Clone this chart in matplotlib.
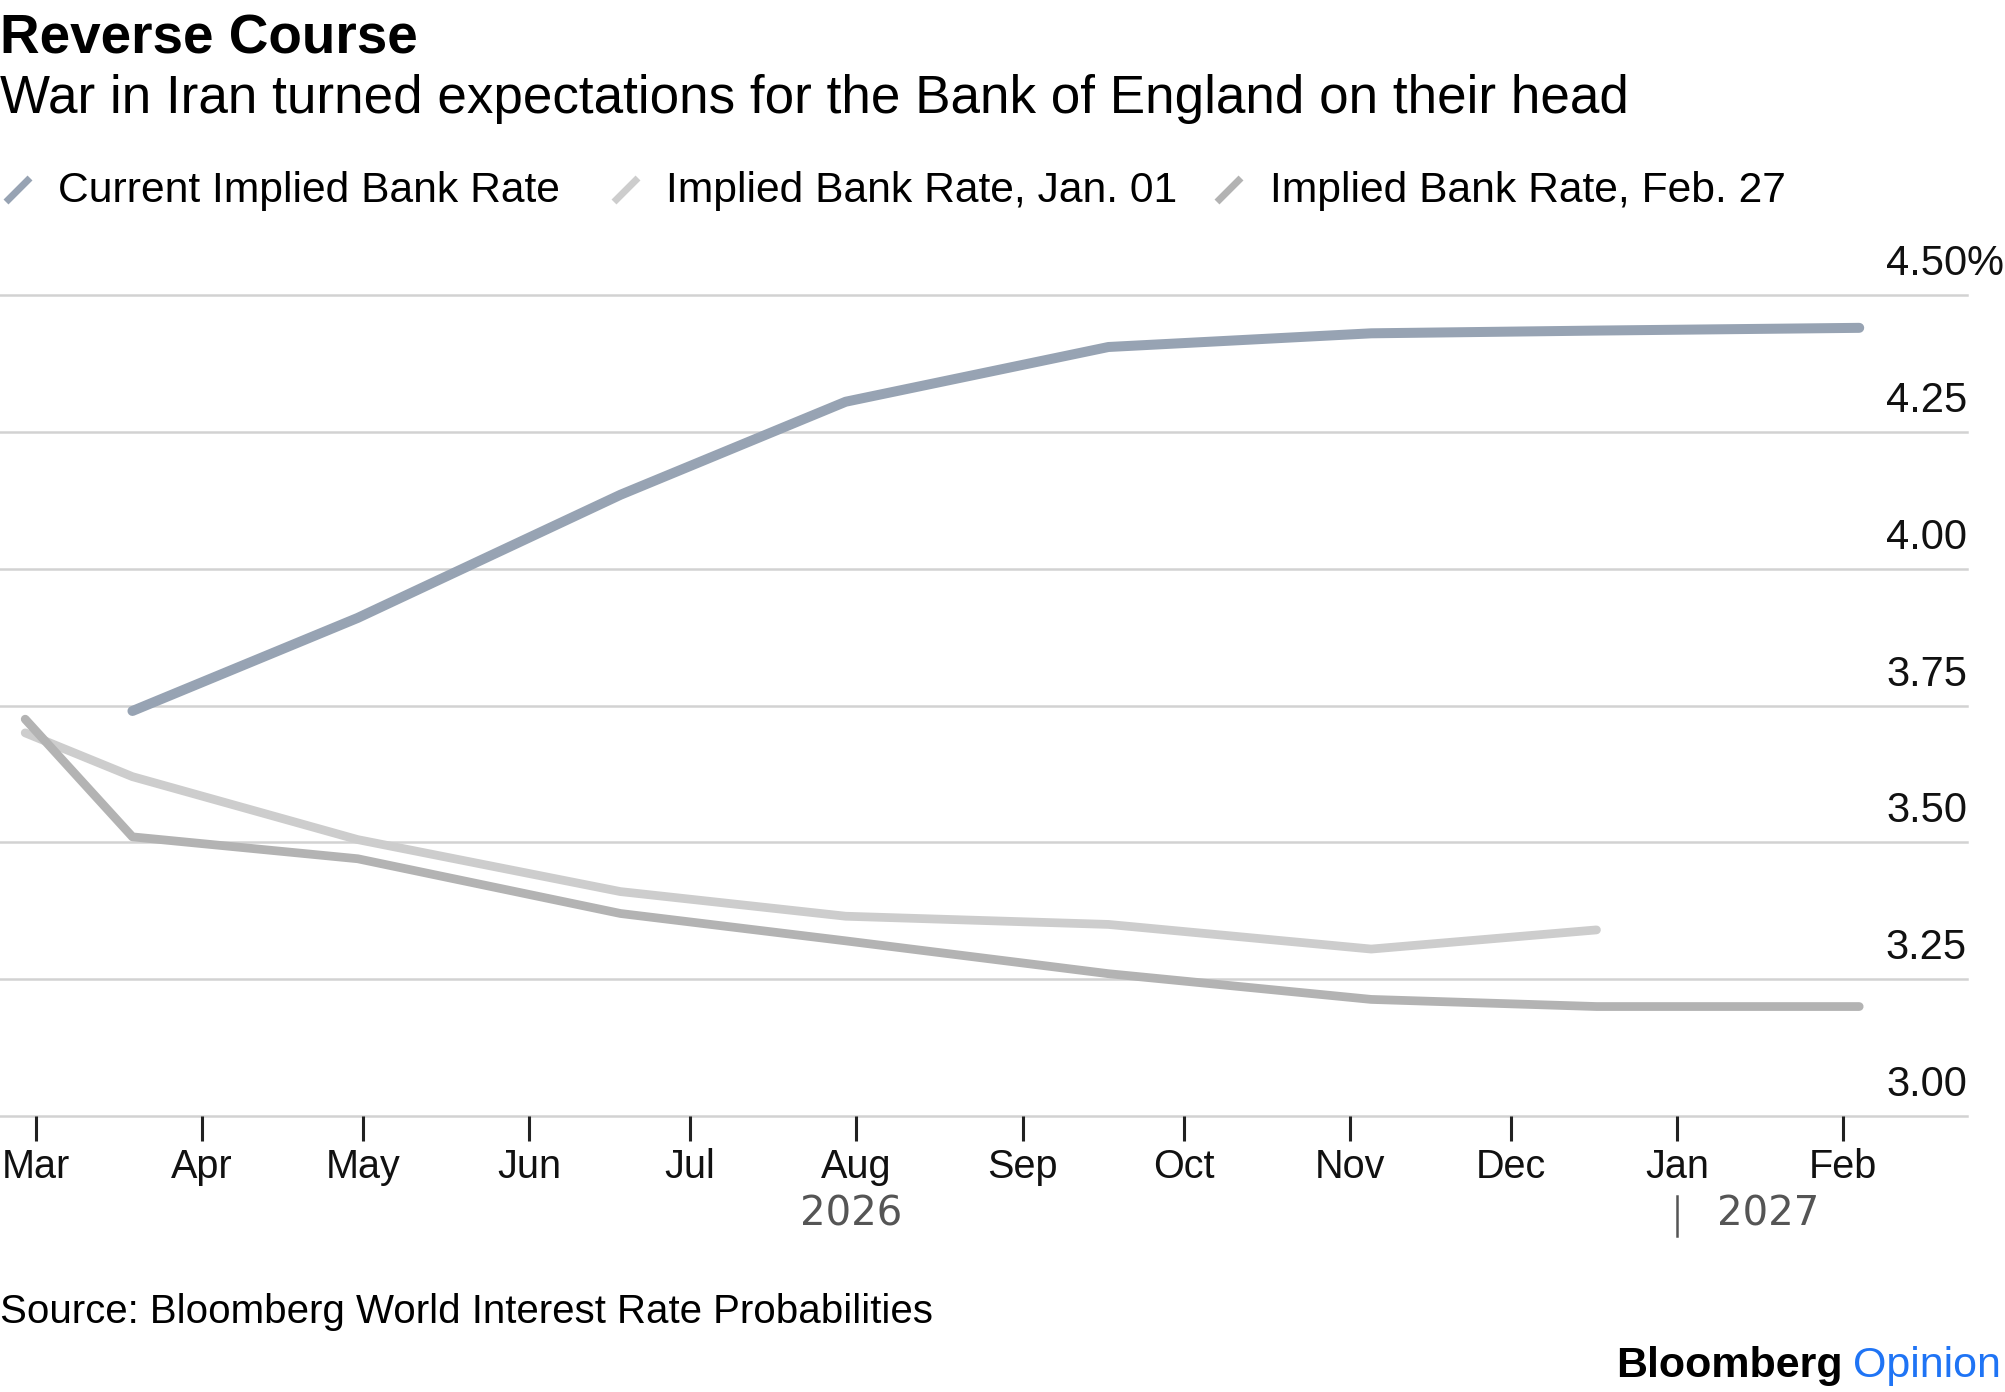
import datetime as dt

import matplotlib
matplotlib.use("Agg")
import matplotlib.dates as mdates
import matplotlib.pyplot as plt
from matplotlib.lines import Line2D
from matplotlib.transforms import blended_transform_factory, offset_copy

plt.rcParams["font.family"] = ["Liberation Sans", "DejaVu Sans"]

# MPC meeting dates and implied bank rate (%)
dates_current = ["2026-03-19", "2026-04-30", "2026-06-18", "2026-07-30",
                 "2026-09-17", "2026-11-05", "2026-12-17", "2027-02-04"]
current = [3.74, 3.91, 4.135, 4.305, 4.405, 4.43, 4.435, 4.44]

dates_jan01 = ["2026-02-27", "2026-03-19", "2026-04-30", "2026-06-18",
               "2026-07-30", "2026-09-17", "2026-11-05", "2026-12-17"]
jan01 = [3.70, 3.62, 3.505, 3.41, 3.365, 3.35, 3.305, 3.34]

dates_feb27 = ["2026-02-27", "2026-03-19", "2026-04-30", "2026-06-18",
               "2026-07-30", "2026-09-17", "2026-11-05", "2026-12-17",
               "2027-02-04"]
feb27 = [3.725, 3.51, 3.47, 3.37, 3.32, 3.26, 3.213, 3.20, 3.20]

series_names = ["Current Implied Bank Rate", "Implied Bank Rate, Jan. 01",
                "Implied Bank Rate, Feb. 27"]
y_ticks = [3.00, 3.25, 3.50, 3.75, 4.00, 4.25, 4.50]
y_labels = ["3.00", "3.25", "3.50", "3.75", "4.00", "4.25", "4.50%"]

C_CUR = "#97a3b3"
C_JAN = "#cdcdcd"
C_FEB = "#b3b3b3"
GRID = "#d2d2d2"


def to_dates(items):
    return [dt.datetime.strptime(s, "%Y-%m-%d") for s in items]


W, H = 2005, 1392
fig = plt.figure(figsize=(W / 100, H / 100), dpi=100)
ax = fig.add_axes([0, 1 - 1116 / H, 1967 / W, (1116 - 295) / H])

ax.plot(to_dates(dates_jan01), jan01, color=C_JAN, lw=6.3,
        solid_capstyle="round", solid_joinstyle="round", zorder=3)
ax.plot(to_dates(dates_feb27), feb27, color=C_FEB, lw=6.3,
        solid_capstyle="round", solid_joinstyle="round", zorder=4)
ax.plot(to_dates(dates_current), current, color=C_CUR, lw=7.2,
        solid_capstyle="round", solid_joinstyle="round", zorder=5)

x0 = dt.datetime(2026, 3, 1)
ax.set_xlim(x0 - dt.timedelta(days=6.7), x0 + dt.timedelta(days=360.1))
ax.set_ylim(3.0, 4.5)

for v in y_ticks:
    ax.axhline(v, color=GRID, lw=1.8, zorder=1, clip_on=False)

ax.set_yticks([])
for sp in ax.spines.values():
    sp.set_visible(False)

trans_lbl = offset_copy(ax.get_yaxis_transform(), fig=fig, x=0, y=20,
                        units="dots")
for v, lab in zip(y_ticks, y_labels):
    if lab.endswith("%"):
        ax.text(1.0, v, lab[:-1], transform=trans_lbl, ha="right",
                va="baseline", fontsize=30, color="#111111")
        ax.text(1.0, v, "%", transform=trans_lbl, ha="left",
                va="baseline", fontsize=30, color="#111111")
    else:
        ax.text(1.0, v, lab, transform=trans_lbl, ha="right",
                va="baseline", fontsize=30, color="#111111")

ax.xaxis.set_major_locator(mdates.MonthLocator())
ax.xaxis.set_major_formatter(mdates.DateFormatter("%b"))
ax.tick_params(axis="x", length=18, width=2.2, color="#222222",
               labelsize=28.5, labelcolor="#111111", pad=5)

# year labels under the month ticks
tb = blended_transform_factory(ax.transData, fig.transFigure)
ax.text(mdates.date2num(dt.datetime(2026, 7, 31)), 1 - 1214 / H, "2026",
        transform=tb, ha="center", va="center", fontsize=29,
        family="DejaVu Sans", color="#555555")
jan = mdates.date2num(dt.datetime(2027, 1, 1))
fig.add_artist(Line2D([jan, jan], [1 - 1196 / H, 1 - 1236 / H],
                      transform=tb, color="#555555", lw=1.8))
ax.text(mdates.date2num(dt.datetime(2027, 1, 18)), 1 - 1214 / H, "2027",
        transform=tb, ha="center", va="center", fontsize=29,
        family="DejaVu Sans", color="#555555")

# titles
fig.text(0, 1 - 54 / H, "Reverse Course", ha="left", va="baseline",
         fontsize=39.5, fontweight="bold", color="#000000")
fig.text(0, 1 - 113 / H,
         "War in Iran turned expectations for the Bank of England on their head",
         ha="left", va="baseline", fontsize=38.2, color="#000000")

# legend
legend_pos = [(6, 58), (614, 666), (1217, 1270)]
for (mx, tx), name, col in zip(legend_pos, series_names,
                               [C_CUR, C_JAN, C_FEB]):
    fig.add_artist(Line2D([mx / W, (mx + 24) / W],
                          [1 - 202 / H, 1 - 178 / H],
                          transform=fig.transFigure, color=col, lw=5,
                          solid_capstyle="butt"))
    fig.text(tx / W, 1 - 202 / H, name, ha="left", va="baseline",
             fontsize=30.7, color="#000000")

fig.text(0, 1 - 1323 / H, "Source: Bloomberg World Interest Rate Probabilities",
         ha="left", va="baseline", fontsize=29, color="#000000")

t1 = fig.text(2001 / W, 1 - 1377 / H, "Opinion", ha="right", va="baseline",
              fontsize=31, color="#1f74f5")
fig.canvas.draw()
bb = t1.get_window_extent()
fig.text((bb.x0 - 10) / W, 1 - 1377 / H, "Bloomberg", ha="right",
         va="baseline", fontsize=31, fontweight="bold", color="#000000")

fig.savefig("out.png", dpi=100)
